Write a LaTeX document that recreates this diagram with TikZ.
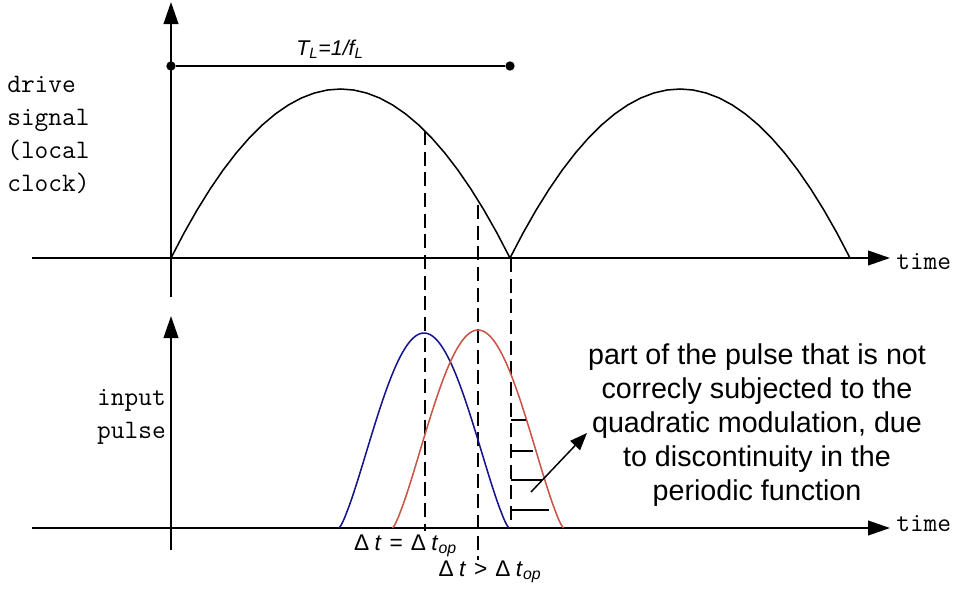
\documentclass[tikz,border=0pt]{standalone}
\usepackage{fontspec}
\setmainfont{Liberation Sans}
\usetikzlibrary{arrows.meta}
\definecolor{pulseblue}{RGB}{20,20,140}
\definecolor{pulsered}{RGB}{200,85,70}
\begin{document}
\begin{tikzpicture}[x=0.75pt,y=-0.75pt,
  axis/.style={line width=1.4pt,-{Triangle[length=16.5pt,width=11pt]}},
  curve/.style={line width=1.15pt},
  guide/.style={line width=1.2pt,dash pattern=on 10.5pt off 5pt},
  hatch/.style={line width=1pt},
  monolab/.style={font=\ttfamily\fontsize{20}{24.75}\selectfont,inner sep=0pt},
  dtlab/.style={font=\fontsize{17}{20}\selectfont,inner sep=0pt},
  dot/.style={circle,fill=black,inner sep=0pt,minimum size=7pt}]
\useasboundingbox (0,0) rectangle (956,589);
% coordinates
\coordinate (tyb) at (171,297); \coordinate (tyt) at (171,2);
\coordinate (txl) at (32,258);  \coordinate (txr) at (890,258);
\coordinate (byb) at (171,550); \coordinate (byt) at (171,316);
\coordinate (bxl) at (32,528);  \coordinate (bxr) at (890,528);
% axes
\draw[axis] (tyb) -- (tyt);
\draw[axis] (txl) -- (txr);
\draw[axis] (byb) -- (byt);
\draw[axis] (bxl) -- (bxr);
\node[monolab,anchor=west] (time1) at (896,262) {time};
\node[monolab,anchor=west] (time2) at (896,524) {time};
\node[monolab,anchor=west,align=left] (drive) at (7,135) {drive\\signal\\(local\\clock)};
\node[monolab,anchor=east,align=right] (input) at (166,417) {input\\pulse};
% period marker
\node[dot] (p0) at (171,66) {};
\node[dot] (p1) at (510,66) {};
\draw[line width=1.1pt] (p0) -- (p1);
\node[font=\fontsize{16}{19}\selectfont\itshape] (TL) at (330,49) {T\textsubscript{L}=1/f\textsubscript{L}};
% drive signal (parabolic arcs)
\draw[curve] plot[domain=171:510,samples=27] (\x,{258-169*(1-((\x-340.5)/169.5)*((\x-340.5)/169.5))});
\draw[curve] plot[domain=510:850,samples=27] (\x,{258-169*(1-((\x-680)/170)*((\x-680)/170))});
% guides
\coordinate (g1t) at (425,131); \coordinate (g1b) at (425,531);
\coordinate (g2t) at (478,205); \coordinate (g2b) at (478,560);
\coordinate (g3t) at (511,258); \coordinate (g3b) at (511,528);
\draw[guide] (g1t) -- (g1b);
\draw[guide] (g2t) -- (g2b);
\draw[guide] (g3t) -- (g3b);
% pulses
\draw[curve,pulseblue] plot[domain=-90:90,samples=90,smooth] ({424+85*\x/90},{528-195*pow(max(cos(\x),0.0001),1.3)});
\draw[curve,pulsered] plot[domain=-90:90,samples=90,smooth] ({478+85.5*\x/90},{528-198*pow(max(cos(\x),0.0001),1.3)});
% hatches
\coordinate (h1a) at (511,420); \coordinate (h1b) at (526,420);
\coordinate (h2a) at (511,451); \coordinate (h2b) at (533,451);
\coordinate (h3a) at (511,480); \coordinate (h3b) at (542,480);
\coordinate (h4a) at (511,510); \coordinate (h4b) at (549,510);
\draw[hatch] (h1a) -- (h1b);
\draw[hatch] (h2a) -- (h2b);
\draw[hatch] (h3a) -- (h3b);
\draw[hatch] (h4a) -- (h4b);
% callout
\node[align=center,font=\fontsize{21.5}{25.5}\selectfont,inner sep=0pt] (note) at (757,425)
  {part of the pulse that is not\\correcly subjected to the\\quadratic modulation, due\\to discontinuity in the\\periodic function};
\coordinate (ca) at (531,492); \coordinate (cb) at (587,433);
\draw[line width=1.1pt,-{Triangle[length=13pt,width=10pt]}] (ca) -- (cb);
% delta labels
\node[dtlab] (dt1) at (405.5,546) {Δ\hspace{4pt}\textit{t}\hspace{6pt}=\hspace{6pt}Δ\hspace{4pt}\textit{t}\textsubscript{\textit{op}}};
\node[dtlab] (dt2) at (490,572) {Δ\hspace{4pt}\textit{t}\hspace{6pt}>\hspace{6pt}Δ\hspace{4pt}\textit{t}\textsubscript{\textit{op}}};
\end{tikzpicture}
\end{document}
